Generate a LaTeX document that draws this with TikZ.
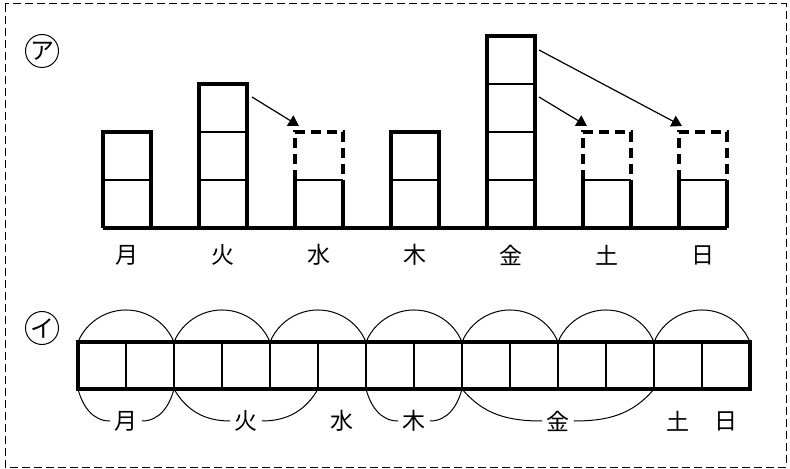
\documentclass[tikz,border=0pt]{standalone}
\usepackage{fontspec}
\setmainfont{Noto Sans CJK JP}
\usetikzlibrary{arrows.meta}

\begin{document}
\begin{tikzpicture}[x=0.5pt, y=-0.5pt, >={Triangle[length=5.2pt, width=6pt]},
	bar/.style={line width=1.65pt},
	cell/.style={line width=0.65pt},
	gap/.style={line width=1.65pt, dash pattern = on 5pt off 3pt},
	bow/.style={line width=0.5pt},
	day/.style={font=\fontsize{11.5pt}{12pt}\selectfont, inner sep=2pt},
	tag/.style={draw, circle, line width=0.5pt, minimum size=16.5pt, inner sep=0pt, font=\fontsize{12pt}{12pt}\selectfont}]
	\useasboundingbox (0,0) rectangle (790,469);
	\draw [dash pattern = on 4pt off 2pt, line width=0.5pt] (5,4) rectangle (786,467);
	\node [tag] (tagA) at (42,51) {ア};
	\node [tag] (tagI) at (42,328) {イ};
	% bars
	\foreach \x/\n in {103/2, 199/3, 391/2, 487/4}{
		\foreach \k in {1,...,\n} \draw [cell] (\x,228-48*\k) --++ (48,0);
		\draw [bar] (\x,228) --++ (0,-48*\n) --++ (48,0) --++ (0,48*\n);
	}
	\foreach \x in {295, 583, 679}{
		\draw [cell] (\x,180) --++ (48,0);
		\draw [bar] (\x,180) --++ (0,48) (\x+48,228) --++ (0,-48);
		\draw [gap] (\x,180) --++ (0,-48) --++ (48,0) --++ (0,48);
	}
	\draw [bar, line cap=square] (103,228) -- (727,228);
	% moving cells
	\coordinate (ka) at (252,97);
	\coordinate (kin3) at (539,97);
	\coordinate (kin4) at (539,50);
	\coordinate (sui) at (299,126);
	\coordinate (do) at (587,126);
	\coordinate (nichi) at (682,126);
	\draw [->, line width=0.6pt] (ka) -- (sui);
	\draw [->, line width=0.6pt] (kin3) -- (do);
	\draw [->, line width=0.6pt] (kin4) -- (nichi);
	\foreach \x/\d/\name in {127/月/getsu, 223/火/kayou, 319/水/suiyou, 415/木/moku, 511/金/kinyou, 607/土/doyou, 703/日/nichiyou}
		\node [day] (\name) at (\x,255) {\d};
	% strip
	\foreach \k in {1,...,13} \draw [cell] (78+48*\k,342) --++ (0,47);
	\draw [bar] (78,342) rectangle (750,389);
	\foreach \k in {0,...,6} \draw [bow] (78+96*\k,342) arc [start angle=202.6, end angle=337.4, radius=52];
	\foreach \k in {0,...,14} \coordinate (s\k) at (78+48*\k,389);
	\node [day] (getsuB) at (126,421) {月};
	\node [day] (kayouB) at (246,421) {火};
	\node [day] (suiyouB) at (342,421) {水};
	\node [day] (mokuB) at (414,421) {木};
	\node [day] (kinyouB) at (558,421) {金};
	\node [day] (doyouB) at (678,421) {土};
	\node [day] (nichiyouB) at (726,421) {日};
	\draw [bow] (s0) to [out=-75, in=180] (getsuB.west) (getsuB.east) to [out=0, in=-105] (s2);
	\draw [bow] (s2) to [out=-60, in=180] (kayouB.west) (kayouB.east) to [out=0, in=-120] (s5);
	\draw [bow] (s6) to [out=-75, in=180] (mokuB.west) (mokuB.east) to [out=0, in=-105] (s8);
	\draw [bow] (s8) to [out=-50, in=180] (kinyouB.west) (kinyouB.east) to [out=0, in=-130] (s12);
\end{tikzpicture}
\end{document}
